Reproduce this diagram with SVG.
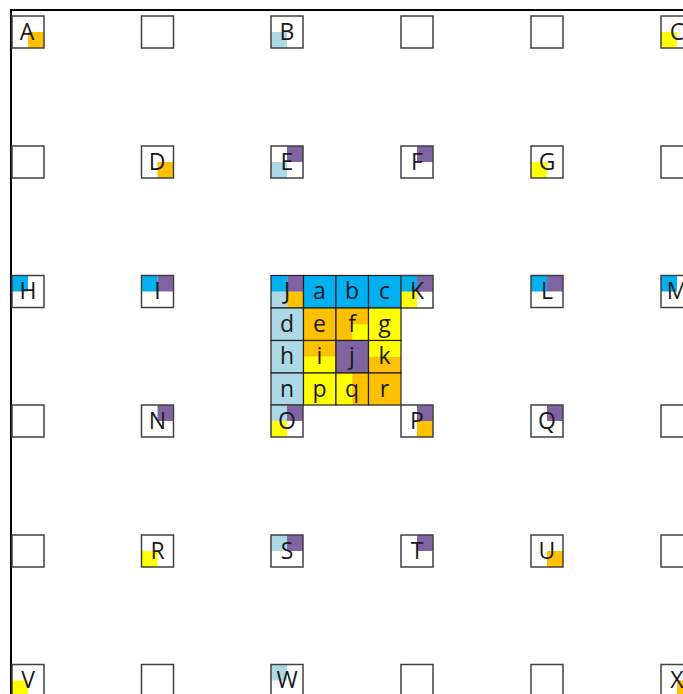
<svg xmlns="http://www.w3.org/2000/svg" width="683" height="694" viewBox="0 0 683 694">
<style>
.bx{fill:none;stroke:#404040;stroke-width:1.5}
.cl{fill:none;stroke:#202020;stroke-width:1.2}
.or{fill:#FFC000}
.lb{fill:#ADD8E6}
.ye{fill:#FFFF00}
.pu{fill:#8064A2}
.cy{fill:#00B0F0}
text{font-family:"Open Sans","Liberation Sans",sans-serif;font-size:23px;fill:#1a1a1a;text-anchor:middle}
</style>
<rect x="0" y="0" width="683" height="694" fill="#ffffff"/>
<g id="frame">
<line x1="10" y1="10" x2="683" y2="10" stroke="#000" stroke-width="2"/>
<line x1="11" y1="9" x2="11" y2="694" stroke="#000" stroke-width="2"/>
</g>
<g id="connectors"/>
<!-- Row 0 -->
<g id="A"><rect class="or" x="28" y="32" width="16" height="16"/><rect class="bx" x="12" y="16" width="32" height="32"/><text x="27" y="39.5">A</text></g>
<g id="r0c1"><rect class="bx" x="141.5" y="16" width="32" height="32"/></g>
<g id="B"><rect class="lb" x="271" y="32" width="16" height="16"/><rect class="bx" x="271" y="16" width="32" height="32"/><text x="287" y="39.5">B</text></g>
<g id="r0c3"><rect class="bx" x="401" y="16" width="32" height="32"/></g>
<g id="r0c4"><rect class="bx" x="531" y="16" width="32" height="32"/></g>
<g id="C"><rect class="ye" x="661" y="32" width="16" height="16"/><rect class="bx" x="661" y="16" width="32" height="32"/><text x="677" y="39.5">C</text></g>
<!-- Row 1 -->
<g id="r1c0"><rect class="bx" x="12" y="146" width="32" height="32"/></g>
<g id="D"><rect class="or" x="157.5" y="162" width="16" height="16"/><rect class="bx" x="141.5" y="146" width="32" height="32"/><text x="157" y="169.5">D</text></g>
<g id="E"><rect class="pu" x="287" y="146" width="16" height="16"/><rect class="lb" x="271" y="162" width="16" height="16"/><rect class="bx" x="271" y="146" width="32" height="32"/><text x="287" y="169.5">E</text></g>
<g id="F"><rect class="pu" x="417" y="146" width="16" height="16"/><rect class="bx" x="401" y="146" width="32" height="32"/><text x="417" y="169.5">F</text></g>
<g id="G"><rect class="ye" x="531" y="162" width="16" height="16"/><rect class="bx" x="531" y="146" width="32" height="32"/><text x="547" y="169.5">G</text></g>
<g id="r1c5"><rect class="bx" x="661" y="146" width="32" height="32"/></g>
<!-- Row 2 -->
<g id="H"><rect class="cy" x="12" y="275.5" width="16" height="16"/><rect class="bx" x="12" y="275.5" width="32" height="32"/><text x="28" y="299">H</text></g>
<g id="I"><rect class="cy" x="141.5" y="275.5" width="16" height="16"/><rect class="pu" x="157.5" y="275.5" width="16" height="16"/><rect class="bx" x="141.5" y="275.5" width="32" height="32"/><text x="157.5" y="299">I</text></g>
<g id="J"><rect class="cy" x="271" y="275.5" width="16.25" height="16.25"/><rect class="pu" x="287.25" y="275.5" width="16.25" height="16.25"/><rect class="lb" x="271" y="291.75" width="16.25" height="16.25"/><rect class="or" x="287.25" y="291.75" width="16.25" height="16.25"/><rect class="cl" x="271" y="275.5" width="32.5" height="32.5"/><text x="287" y="299">J</text></g>
<g id="a"><rect class="cy" x="303.5" y="275.5" width="32.5" height="32.5"/><rect class="cl" x="303.5" y="275.5" width="32.5" height="32.5"/><text x="319.5" y="299">a</text></g>
<g id="b"><rect class="cy" x="336" y="275.5" width="32.5" height="32.5"/><rect class="cl" x="336" y="275.5" width="32.5" height="32.5"/><text x="352" y="299">b</text></g>
<g id="c"><rect class="cy" x="368.5" y="275.5" width="32.5" height="32.5"/><rect class="cl" x="368.5" y="275.5" width="32.5" height="32.5"/><text x="384.5" y="299">c</text></g>
<g id="K"><rect class="cy" x="401" y="275.5" width="16" height="16.25"/><rect class="pu" x="417" y="275.5" width="16" height="16.25"/><rect class="ye" x="401" y="291.75" width="16" height="16.25"/><rect class="bx" x="401" y="275.5" width="32" height="32.5"/><text x="417" y="299">K</text></g>
<g id="L"><rect class="cy" x="531" y="275.5" width="16" height="16"/><rect class="pu" x="547" y="275.5" width="16" height="16"/><rect class="bx" x="531" y="275.5" width="32" height="32"/><text x="547" y="299">L</text></g>
<g id="M"><rect class="cy" x="661" y="275.5" width="16" height="16"/><rect class="bx" x="661" y="275.5" width="32" height="32"/><text x="677" y="299">M</text></g>
<!-- central rows -->
<g id="d"><rect class="lb" x="271" y="308" width="32.5" height="32.5"/><rect class="cl" x="271" y="308" width="32.5" height="32.5"/><text x="287" y="331.5">d</text></g>
<g id="e"><rect class="or" x="303.5" y="308" width="32.5" height="32.5"/><rect class="cl" x="303.5" y="308" width="32.5" height="32.5"/><text x="319.5" y="331.5">e</text></g>
<g id="f"><rect class="or" x="336" y="308" width="32.5" height="32.5"/><rect class="ye" x="352.25" y="324.25" width="16.25" height="16.25"/><rect class="cl" x="336" y="308" width="32.5" height="32.5"/><text x="352" y="331.5">f</text></g>
<g id="g"><rect class="ye" x="368.5" y="308" width="32.5" height="32.5"/><rect class="cl" x="368.5" y="308" width="32.5" height="32.5"/><text x="384.5" y="331.5">g</text></g>
<g id="h"><rect class="lb" x="271" y="340.5" width="32.5" height="32.5"/><rect class="cl" x="271" y="340.5" width="32.5" height="32.5"/><text x="287" y="364">h</text></g>
<g id="i"><rect class="or" x="303.5" y="340.5" width="32.5" height="16.25"/><rect class="ye" x="303.5" y="356.75" width="32.5" height="16.25"/><rect class="cl" x="303.5" y="340.5" width="32.5" height="32.5"/><text x="319.5" y="364">i</text></g>
<g id="j"><rect class="pu" x="336" y="340.5" width="32.5" height="32.5"/><rect class="cl" x="336" y="340.5" width="32.5" height="32.5"/><text x="352" y="364">j</text></g>
<g id="k"><rect class="ye" x="368.5" y="340.5" width="32.5" height="16.25"/><rect class="or" x="368.5" y="356.75" width="32.5" height="16.25"/><rect class="cl" x="368.5" y="340.5" width="32.5" height="32.5"/><text x="384.5" y="364">k</text></g>
<g id="n"><rect class="lb" x="271" y="373" width="32.5" height="32"/><rect class="cl" x="271" y="373" width="32.5" height="32"/><text x="287" y="396.5">n</text></g>
<g id="p"><rect class="ye" x="303.5" y="373" width="32.5" height="32"/><rect class="cl" x="303.5" y="373" width="32.5" height="32"/><text x="319.5" y="396.5">p</text></g>
<g id="q"><rect class="ye" x="336" y="373" width="16.25" height="32"/><rect class="or" x="352.25" y="373" width="16.25" height="32"/><rect class="cl" x="336" y="373" width="32.5" height="32"/><text x="352" y="396.5">q</text></g>
<g id="r"><rect class="or" x="368.5" y="373" width="32.5" height="32"/><rect class="cl" x="368.5" y="373" width="32.5" height="32"/><text x="384.5" y="396.5">r</text></g>
<!-- Row 3 -->
<g id="r3c0"><rect class="bx" x="12" y="405" width="32" height="32"/></g>
<g id="N"><rect class="pu" x="157.5" y="405" width="16" height="16"/><rect class="bx" x="141.5" y="405" width="32" height="32"/><text x="157.5" y="428.5">N</text></g>
<g id="O"><rect class="lb" x="271" y="405" width="16" height="16"/><rect class="pu" x="287" y="405" width="16" height="16"/><rect class="ye" x="271" y="421" width="16" height="16"/><rect class="bx" x="271" y="405" width="32" height="32"/><text x="287" y="428.5">O</text></g>
<g id="P"><rect class="pu" x="417" y="405" width="16" height="16"/><rect class="or" x="417" y="421" width="16" height="16"/><rect class="bx" x="401" y="405" width="32" height="32"/><text x="417" y="428.5">P</text></g>
<g id="Q"><rect class="pu" x="547" y="405" width="16" height="16"/><rect class="bx" x="531" y="405" width="32" height="32"/><text x="547" y="428.5">Q</text></g>
<g id="r3c5"><rect class="bx" x="661" y="405" width="32" height="32"/></g>
<!-- Row 4 -->
<g id="r4c0"><rect class="bx" x="12" y="535" width="32" height="32"/></g>
<g id="R"><rect class="ye" x="141.5" y="551" width="16" height="16"/><rect class="bx" x="141.5" y="535" width="32" height="32"/><text x="157.5" y="558.5">R</text></g>
<g id="S"><rect class="lb" x="271" y="535" width="16" height="16"/><rect class="pu" x="287" y="535" width="16" height="16"/><rect class="bx" x="271" y="535" width="32" height="32"/><text x="287" y="558.5">S</text></g>
<g id="T"><rect class="pu" x="417" y="535" width="16" height="16"/><rect class="bx" x="401" y="535" width="32" height="32"/><text x="417" y="558.5">T</text></g>
<g id="U"><rect class="or" x="547" y="551" width="16" height="16"/><rect class="bx" x="531" y="535" width="32" height="32"/><text x="547" y="558.5">U</text></g>
<g id="r4c5"><rect class="bx" x="661" y="535" width="32" height="32"/></g>
<!-- Row 5 -->
<g id="V"><rect class="ye" x="12" y="680.5" width="16" height="16"/><rect class="bx" x="12" y="664.5" width="32" height="32"/><text x="28" y="688">V</text></g>
<g id="r5c1"><rect class="bx" x="141.5" y="664.5" width="32" height="32"/></g>
<g id="W"><rect class="lb" x="271" y="664.5" width="16" height="16"/><rect class="bx" x="271" y="664.5" width="32" height="32"/><text x="287" y="688">W</text></g>
<g id="r5c3"><rect class="bx" x="401" y="664.5" width="32" height="32"/></g>
<g id="r5c4"><rect class="bx" x="531" y="664.5" width="32" height="32"/></g>
<g id="X"><rect class="or" x="677" y="680.5" width="16" height="16"/><rect class="bx" x="661" y="664.5" width="32" height="32"/><text x="677" y="688">X</text></g>
</svg>
